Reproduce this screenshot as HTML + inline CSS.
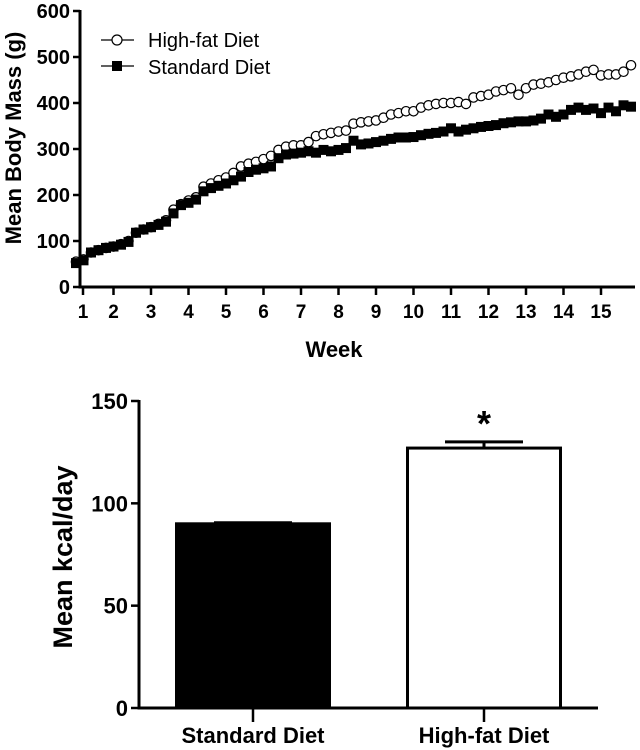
<!DOCTYPE html>
<html><head><meta charset="utf-8"><style>
html,body{margin:0;padding:0;background:#fff;}
svg{display:block;font-family:"Liberation Sans",Arial,sans-serif;}
</style></head><body>
<svg id="c" width="640" height="750" viewBox="0 0 640 750"></svg>
<script>
const hfValues=[55,60,75,80,85,88,93,100,118,125,130,137,145,168,180,188,195,218,225,232,238,248,262,268,272,278,285,298,305,308,308,315,328,332,335,338,340,355,358,360,362,368,375,378,382,382,390,395,398,400,400,402,398,412,415,418,425,428,432,418,432,440,442,445,450,455,458,462,468,472,460,462,462,468,482];
const stdValues=[52,58,75,80,85,88,92,98,118,125,130,135,142,160,178,183,190,208,215,220,225,232,240,250,255,258,262,280,288,290,292,295,292,298,295,298,302,318,310,312,315,318,322,325,325,326,330,333,335,338,345,338,342,345,348,350,352,356,358,360,360,362,366,375,370,375,385,390,385,388,378,390,382,395,392];
const startWeek=1.0, weekStep=0.2;
const yTicks=[0,100,200,300,400,500,600];
const xTickLabels=["1","2","3","4","5","6","7","8","9","10","11","12","13","14","15"];
const barCategories=["Standard Diet","High-fat Diet"];
const barValues=[90,127];
const barErrors=[0.5,3];
const barTicks=[0,50,100,150];

const NS="http://www.w3.org/2000/svg";
const svg=document.getElementById('c');
function mk(tag,attrs,parent){const e=document.createElementNS(NS,tag);for(const k in attrs)e.setAttribute(k,attrs[k]);(parent||svg).appendChild(e);return e;}

const xW=w=>151+37.5*(w-3);
const yM=v=>287-v*(276/600);
const topG=mk('g',{});


let e=mk('line',{x1:80,y1:yM(600)-1,x2:80,y2:288.5,stroke:'#000','stroke-width':3},topG);

e=mk('line',{x1:78.5,y1:287,x2:635,y2:287,stroke:'#000','stroke-width':3},topG);

yTicks.forEach(v=>{
  const y=yM(v);
  const t=mk('line',{x1:73,y1:y,x2:80,y2:y,stroke:'#000','stroke-width':2.5},topG);
  
  const l=mk('text',{x:70,y:y+7,'text-anchor':'end','font-size':20,'font-weight':'bold'},topG);
  l.textContent=v;
  
});
xTickLabels.forEach((s,i)=>{
  const w=i+1;const x=i===0?83:xW(w);
  const t=mk('line',{x1:x,y1:287,x2:x,y2:295,stroke:'#000','stroke-width':2.5},topG);
  
  const l=mk('text',{x:x,y:318,'text-anchor':'middle','font-size':19,'font-weight':'bold'},topG);
  l.textContent=s;
  
});
e=mk('text',{x:334,y:357,'text-anchor':'middle','font-size':22,'font-weight':'bold'},topG);
e.textContent='Week';
e=mk('text',{x:0,y:0,transform:'translate(21,138) rotate(-90)','text-anchor':'middle','font-size':22,'font-weight':'bold'},topG);
e.textContent='Mean Body Mass (g)';

function series(vals,name,square){
  const g=mk('g',{},topG);
  
  const pts=vals.map((v,i)=>[xW(startWeek+i*weekStep),yM(v)]);
  const p=mk('polyline',{points:pts.map(p=>p.join(',')).join(' '),fill:'none',stroke:'#000','stroke-width':1.2},g);
  
  pts.forEach(([x,y])=>{
    let m;
    if(square) m=mk('rect',{x:x-5,y:y-5,width:10,height:10,fill:'#000'},g);
    else m=mk('circle',{cx:x,cy:y,r:4.7,fill:'#fff',stroke:'#000','stroke-width':1.2},g);
    
  });
}
series(hfValues,'high-fat-series',false);
series(stdValues,'standard-diet-series',true);

const lg=mk('g',{},topG);

e=mk('g',{},lg);
mk('line',{x1:101,y1:40,x2:134,y2:40,stroke:'#000','stroke-width':1.2},e);
mk('circle',{cx:117,cy:40,r:5,fill:'#fff',stroke:'#000','stroke-width':1.2},e);
let t=mk('text',{x:148,y:47,'font-size':20},e);t.textContent='High-fat Diet';
e=mk('g',{},lg);
mk('line',{x1:101,y1:66,x2:134,y2:66,stroke:'#000','stroke-width':1.2},e);
mk('rect',{x:112,y:61,width:10,height:10,fill:'#000'},e);
t=mk('text',{x:148,y:74,'font-size':20},e);t.textContent='Standard Diet';

const bot=mk('g',{});

const yK=v=>708-v*(307/150);
e=mk('line',{x1:139,y1:yK(150)-1,x2:139,y2:709.5,stroke:'#000','stroke-width':3},bot);

e=mk('line',{x1:137.5,y1:708,x2:598,y2:708,stroke:'#000','stroke-width':3},bot);

barTicks.forEach(v=>{
  const y=yK(v);
  const tk=mk('line',{x1:131,y1:y,x2:139,y2:y,stroke:'#000','stroke-width':2.5},bot);
  
  const l=mk('text',{x:128,y:y+8,'text-anchor':'end','font-size':22,'font-weight':'bold'},bot);
  l.textContent=v;
});
e=mk('text',{x:0,y:0,transform:'translate(72,557) rotate(-90)','text-anchor':'middle','font-size':27,'font-weight':'bold'},bot);
e.textContent='Mean kcal/day';
const barCenters=[253,484], barW=153;
barCategories.forEach((c,i)=>{
  const cx=barCenters[i];const y=yK(barValues[i]);
  const ye=yK(barValues[i]+barErrors[i]);
  const el=mk('line',{x1:cx,y1:y,x2:cx,y2:ye,stroke:'#000','stroke-width':3},bot);
  
  const cap=mk('line',{x1:cx-39,y1:ye,x2:cx+39,y2:ye,stroke:'#000','stroke-width':3},bot);
  
  const r=mk('rect',{x:cx-barW/2,y:y,width:barW,height:708-y,fill:i===0?'#000':'#fff',stroke:'#000','stroke-width':3},bot);
  
  const tk=mk('line',{x1:cx,y1:708,x2:cx,y2:722,stroke:'#000','stroke-width':2.5},bot);
  
  const l=mk('text',{x:cx,y:743,'text-anchor':'middle','font-size':22,'font-weight':'bold'},bot);
  l.textContent=c;
});
e=mk('text',{x:barCenters[1],y:yK(barValues[1]+barErrors[1])-6,'text-anchor':'middle','font-size':36,'font-weight':'bold'},bot);
e.textContent='*';
</script>
</body></html>
